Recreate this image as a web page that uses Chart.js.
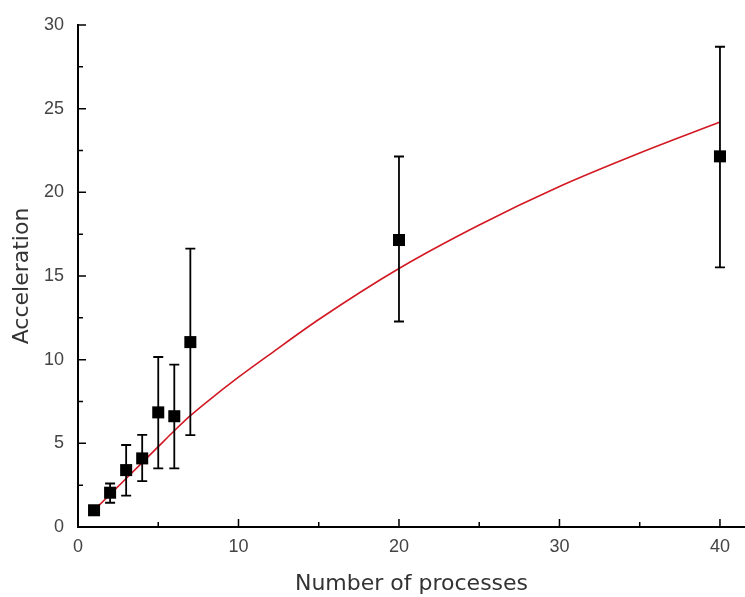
<!DOCTYPE html>
<html>
<head>
<meta charset="utf-8">
<script src="https://cdn.jsdelivr.net/npm/chart.js@4.4.0/dist/chart.umd.min.js"></script>
<style>
  html, body { margin: 0; padding: 0; background: #fff; overflow: hidden; }
  #wrap { width: 745px; height: 597px; }
</style>
</head>
<body>
<div id="wrap"><canvas id="speedChart"></canvas></div>
<script>
// measured points
var processes = [1, 2, 3, 4, 5, 6, 7, 20, 40];
var acceleration = [1.0, 2.05, 3.4, 4.1, 6.85, 6.62, 11.05, 17.15, 22.15];
var errLow = [0.95, 1.45, 1.87, 2.74, 3.5, 3.5, 5.49, 12.28, 15.52];
var errHigh = [1.05, 2.6, 4.9, 5.5, 10.16, 9.7, 16.64, 22.14, 28.7];

// fitted curve
var fitX = [1, 2, 3, 4, 5, 6, 7, 8, 10, 12, 15, 20, 25, 30, 35, 40];
var fitY = [1.0, 1.95, 2.9, 3.85, 4.8, 5.75, 6.65, 7.45, 8.95, 10.35, 12.4, 15.45, 18.05, 20.35, 22.35, 24.2];

var xTicks = [0, 5, 10, 15, 20, 25, 30, 35, 40];
var yTicks = [0, 2.5, 5, 7.5, 10, 12.5, 15, 17.5, 20, 22.5, 25, 27.5, 30];

var points = processes.map(function (x, i) {
    return { x: x, y: acceleration[i], lo: errLow[i], hi: errHigh[i] };
});
var fitLine = fitX.map(function (x, i) { return { x: x, y: fitY[i] }; });

// error bars drawn with the chart's scales
var errorBars = {
    id: 'errorBars',
    afterDatasetsDraw: function (chart) {
        var ctx = chart.ctx;
        var xs = chart.scales.x, ys = chart.scales.y;
        ctx.save();
        ctx.strokeStyle = '#000';
        ctx.lineWidth = 1.8;
        points.forEach(function (p) {
            var px = xs.getPixelForValue(p.x);
            var top = ys.getPixelForValue(p.hi);
            var bot = ys.getPixelForValue(p.lo);
            ctx.beginPath();
            ctx.moveTo(px, top); ctx.lineTo(px, bot);
            ctx.moveTo(px - 5, top); ctx.lineTo(px + 5, top);
            ctx.moveTo(px - 5, bot); ctx.lineTo(px + 5, bot);
            ctx.stroke();
        });
        ctx.restore();
    }
};

// inward tick marks
var innerTicks = {
    id: 'innerTicks',
    afterDraw: function (chart) {
        var ctx = chart.ctx;
        var xs = chart.scales.x, ys = chart.scales.y;
        var area = chart.chartArea;
        ctx.save();
        ctx.strokeStyle = '#000';
        ctx.lineWidth = 1.5;
        ctx.beginPath();
        xTicks.forEach(function (v) {
            var px = xs.getPixelForValue(v);
            var len = v % 10 === 0 ? 8 : 5;
            ctx.moveTo(px, area.bottom); ctx.lineTo(px, area.bottom - len);
        });
        yTicks.forEach(function (v) {
            var py = ys.getPixelForValue(v);
            var len = v % 5 === 0 ? 8 : 5;
            ctx.moveTo(area.left, py); ctx.lineTo(area.left + len, py);
        });
        ctx.stroke();
        ctx.restore();
    }
};

var ctx = document.getElementById('speedChart').getContext('2d');
var chart = new Chart(ctx, {
    type: 'scatter',
    data: {
        datasets: [{
            label: 'Fit',
            type: 'line',
            data: fitLine,
            borderColor: 'rgb(210, 25, 35)',
            borderWidth: 1.6,
            pointRadius: 0,
            cubicInterpolationMode: 'monotone',
            fill: false,
            order: 2
        }, {
            label: 'Acceleration',
            data: points,
            pointStyle: 'rect',
            pointRadius: 8.5,
            pointHoverRadius: 8.5,
            backgroundColor: '#000',
            borderColor: '#000',
            borderWidth: 0,
            order: 1
        }]
    },
    options: {
        responsive: true,
        maintainAspectRatio: false,
        animation: false,
        layout: { autoPadding: false, padding: { top: 25, right: 0, left: 0, bottom: 0 } },
        plugins: {
            legend: { display: false },
            tooltip: { enabled: false }
        },
        scales: {
            x: {
                type: 'linear',
                min: 0,
                max: 41.56,
                afterBuildTicks: function (scale) {
                    scale.ticks = xTicks.map(function (v) { return { value: v }; });
                },
                afterFit: function (scale) {
                    scale.height = 70;
                    scale.paddingRight = 0;
                },
                border: { display: true, color: '#000', width: 2 },
                grid: { drawOnChartArea: false, drawTicks: false },
                ticks: {
                    padding: 9,
                    color: '#444',
                    font: { family: 'Liberation Sans', size: 18 },
                    maxRotation: 0,
                    callback: function (v) { return v % 10 === 0 ? v : ''; }
                },
                title: {
                    display: true,
                    text: 'Number of processes',
                    color: '#333',
                    font: { family: 'DejaVu Sans', size: 22 },
                    padding: { top: 0, bottom: 0 }
                }
            },
            y: {
                type: 'linear',
                min: 0,
                max: 30,
                afterBuildTicks: function (scale) {
                    scale.ticks = yTicks.map(function (v) { return { value: v }; });
                },
                afterFit: function (scale) { scale.width = 78; },
                border: { display: true, color: '#000', width: 2 },
                grid: { drawOnChartArea: false, drawTicks: false },
                ticks: {
                    padding: 14,
                    color: '#444',
                    font: { family: 'Liberation Sans', size: 18 },
                    callback: function (v) { return v % 5 === 0 ? v : ''; }
                },
                title: {
                    display: true,
                    text: 'Acceleration',
                    color: '#333',
                    font: { family: 'DejaVu Sans', size: 22 },
                    padding: { top: 9, bottom: 0 }
                }
            }
        }
    },
    plugins: [errorBars, innerTicks]
});
</script>
</body>
</html>
